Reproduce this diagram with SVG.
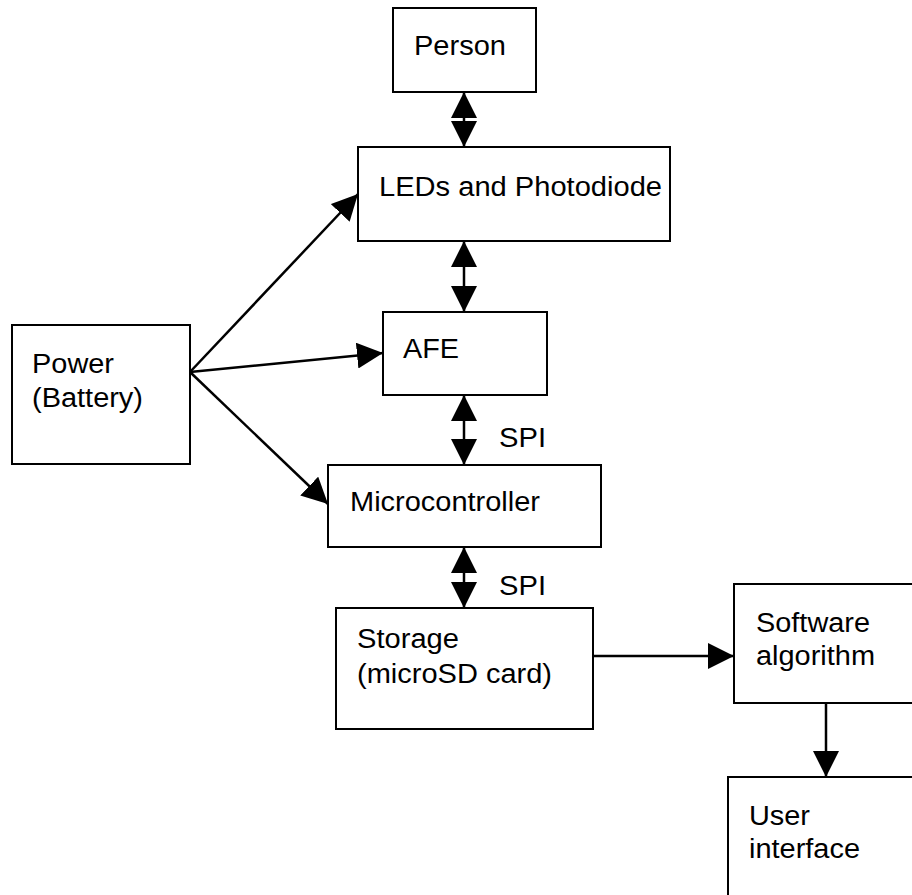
<svg xmlns="http://www.w3.org/2000/svg" width="912" height="895" viewBox="0 0 912 895">
  <style>
    .box { fill: #ffffff; stroke: #000000; stroke-width: 2; }
    .lbl { font-family: "Liberation Sans", Arial, sans-serif; font-size: 27px; fill: #000000; }
    .wire { stroke: #000000; stroke-width: 2.5; fill: none; }
  </style>
  <defs>
    <marker id="head" markerUnits="userSpaceOnUse" markerWidth="26" markerHeight="26" viewBox="0 0 26 26" refX="26" refY="13" orient="auto-start-reverse">
      <path d="M0,0 L26,13 L0,26 z" fill="#000000"/>
    </marker>
  </defs>

  <rect width="912" height="895" fill="#ffffff"/>

  <g id="connectors">
    <!-- two-way links down the main chain -->
    <line class="wire" x1="464" y1="92" x2="464" y2="147" marker-start="url(#head)" marker-end="url(#head)"/>
    <line class="wire" x1="464" y1="241" x2="464" y2="312" marker-start="url(#head)" marker-end="url(#head)"/>
    <line class="wire" x1="464" y1="395" x2="464" y2="465" marker-start="url(#head)" marker-end="url(#head)"/>
    <line class="wire" x1="464" y1="547" x2="464" y2="608" marker-start="url(#head)" marker-end="url(#head)"/>
    <!-- power feeds -->
    <line class="wire" x1="190" y1="372" x2="358" y2="194" marker-end="url(#head)"/>
    <line class="wire" x1="190" y1="372" x2="383" y2="353" marker-end="url(#head)"/>
    <line class="wire" x1="190" y1="372" x2="328" y2="504" marker-end="url(#head)"/>
    <!-- data out to processing -->
    <line class="wire" x1="593" y1="656" x2="734" y2="656" marker-end="url(#head)"/>
    <line class="wire" x1="826" y1="703" x2="826" y2="777" marker-end="url(#head)"/>
    <text class="lbl" x="499" y="447" textLength="47" lengthAdjust="spacingAndGlyphs">SPI</text>
    <text class="lbl" x="499" y="595" textLength="47" lengthAdjust="spacingAndGlyphs">SPI</text>
  </g>

  <g id="person">
    <rect class="box" x="393" y="8" width="143" height="84"/>
    <text class="lbl" x="414" y="55" textLength="92" lengthAdjust="spacingAndGlyphs">Person</text>
  </g>

  <g id="leds">
    <rect class="box" x="358" y="147" width="312" height="94"/>
    <text class="lbl" x="379" y="196" textLength="283" lengthAdjust="spacingAndGlyphs">LEDs and Photodiode</text>
  </g>

  <g id="afe">
    <rect class="box" x="383" y="312" width="164" height="83"/>
    <text class="lbl" x="403" y="358" textLength="56" lengthAdjust="spacingAndGlyphs">AFE</text>
  </g>

  <g id="power">
    <rect class="box" x="12" y="325" width="178" height="139"/>
    <text class="lbl" x="32" y="373" textLength="82" lengthAdjust="spacingAndGlyphs">Power</text>
    <text class="lbl" x="32" y="407" textLength="111" lengthAdjust="spacingAndGlyphs">(Battery)</text>
  </g>

  <g id="microcontroller">
    <rect class="box" x="328" y="465" width="273" height="82"/>
    <text class="lbl" x="350" y="511" textLength="190" lengthAdjust="spacingAndGlyphs">Microcontroller</text>
  </g>

  <g id="storage">
    <rect class="box" x="336" y="608" width="257" height="121"/>
    <text class="lbl" x="357" y="648" textLength="102" lengthAdjust="spacingAndGlyphs">Storage</text>
    <text class="lbl" x="357" y="683" textLength="195" lengthAdjust="spacingAndGlyphs">(microSD card)</text>
  </g>

  <g id="software">
    <rect class="box" x="734" y="584" width="190" height="119"/>
    <text class="lbl" x="756" y="632" textLength="114" lengthAdjust="spacingAndGlyphs">Software</text>
    <text class="lbl" x="756" y="665" textLength="119" lengthAdjust="spacingAndGlyphs">algorithm</text>
  </g>

  <g id="user-interface">
    <rect class="box" x="728" y="777" width="200" height="130"/>
    <text class="lbl" x="749" y="825" textLength="61" lengthAdjust="spacingAndGlyphs">User</text>
    <text class="lbl" x="749" y="858" textLength="111" lengthAdjust="spacingAndGlyphs">interface</text>
  </g>
</svg>
